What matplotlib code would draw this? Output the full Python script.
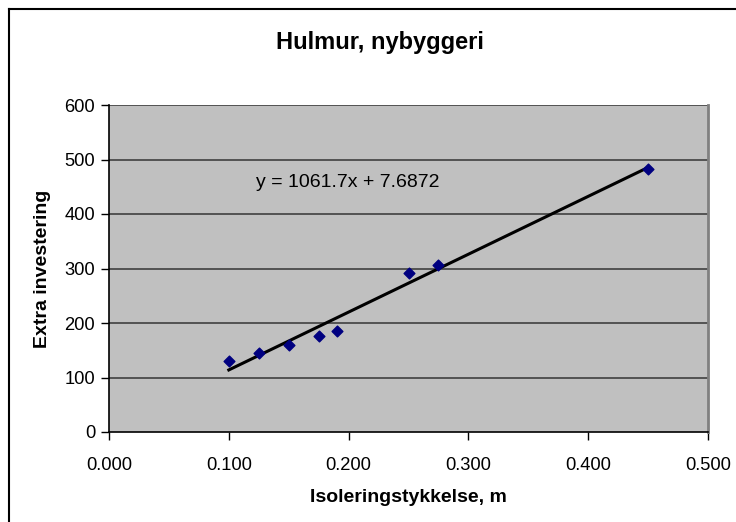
import matplotlib
matplotlib.use("Agg")
import matplotlib.pyplot as plt
from matplotlib.lines import Line2D
import numpy as np

# Data
thickness = [0.100, 0.125, 0.150, 0.175, 0.190, 0.250, 0.275, 0.450]
investment = [130, 145, 160, 176, 185, 292, 306, 483]
slope = 1061.7
intercept = 7.6872
x_ticks = [0.0, 0.1, 0.2, 0.3, 0.4, 0.5]
y_ticks = [0, 100, 200, 300, 400, 500, 600]
title = "Hulmur, nybyggeri"
xlabel = "Isoleringstykkelse, m"
ylabel = "Extra investering"
eq_text = "y = 1061.7x + 7.6872"

plt.rcParams['font.family'] = ['Liberation Sans', 'DejaVu Sans']

W, H = 736, 522
fig = plt.figure(figsize=(W / 100, H / 100), dpi=100)
ax = fig.add_axes([109 / W, (H - 432) / H, 599 / W, 327 / H])
ax.set_facecolor('#C0C0C0')

ax.set_xlim(0, 0.5)
ax.set_ylim(0, 600)
ax.set_xticks(x_ticks)
ax.set_yticks(y_ticks)
ax.set_xticklabels([f"{v:.3f}" for v in x_ticks])
ax.set_yticklabels([str(v) for v in y_ticks])

for y in y_ticks[1:]:
    ax.axhline(y, color='#4a4a4a', lw=1.3, zorder=1)

# trendline
tx = np.array([min(thickness), max(thickness)])
ax.plot(tx, slope * tx + intercept, color='black', lw=2.2, zorder=2)

ax.scatter(thickness, investment, marker='D', s=30, color='#000080',
           edgecolors='#000080', zorder=3)

ax.text(0.1227, 457, eq_text, fontsize=14, color='black',
        ha='left', va='center', zorder=4)

ax.spines['top'].set_visible(False)
ax.spines['right'].set_color('#808080')
ax.spines['right'].set_linewidth(2)
ax.spines['left'].set_color('black')
ax.spines['bottom'].set_color('black')
ax.spines['left'].set_linewidth(1.2)
ax.spines['bottom'].set_linewidth(1.2)

ax.tick_params(axis='both', direction='out', length=6, width=1, color='black',
               labelsize=13.2, labelcolor='black')
ax.tick_params(axis='x', pad=12)
ax.tick_params(axis='y', pad=4)

ax.set_xlabel(xlabel, fontsize=14, fontweight='bold')
ax.xaxis.set_label_coords(0.5, -(497 - 432) / 327)
ax.xaxis.label.set_va('center')
ax.set_ylabel(ylabel, fontsize=14, fontweight='bold')
ax.yaxis.set_label_coords(-(109 - 43) / 599, 0.5)
ax.yaxis.label.set_va('center')

fig.text(380 / W, 1 - 42 / H, title, fontsize=17, fontweight='bold',
         ha='center', va='center')

# outer border (top and left)
bx = 9 / W
by = 1 - 9 / H
fig.add_artist(Line2D([bx, 1], [by, by], color='black', lw=1.5, transform=fig.transFigure))
fig.add_artist(Line2D([bx, bx], [0, by], color='black', lw=1.5, transform=fig.transFigure))

fig.savefig('out.png', dpi=100)
